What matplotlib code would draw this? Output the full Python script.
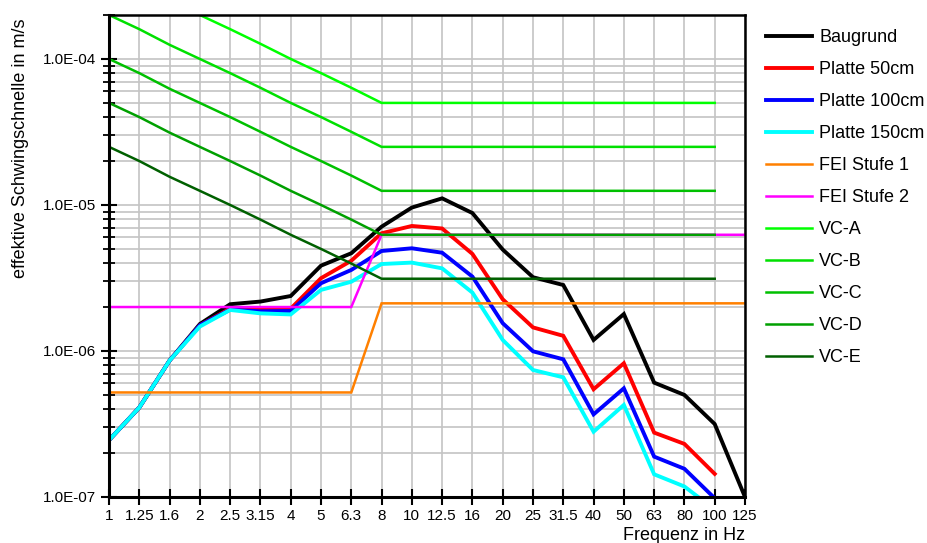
import numpy as np
import matplotlib
matplotlib.use("Agg")
import matplotlib.pyplot as plt
from matplotlib.ticker import LogLocator, FixedLocator, NullFormatter

plt.rcParams['font.family'] = ['Liberation Sans', 'DejaVu Sans']

freq_labels = ["1", "1.25", "1.6", "2", "2.5", "3.15", "4", "5", "6.3", "8", "10",
               "12.5", "16", "20", "25", "31.5", "40", "50", "63", "80", "100", "125"]

nan = np.nan
baugrund = [2.45e-7, 4.1e-7, 8.6e-7, 1.53e-6, 2.09e-6, 2.18e-6, 2.38e-6, 3.84e-6, 4.67e-6, 7.1e-6, 9.6e-6,
            1.11e-5, 8.8e-6, 4.95e-6, 3.2e-6, 2.83e-6, 1.19e-6, 1.79e-6, 6.07e-7, 5.0e-7, 3.16e-7, 1.0e-7]
platte50 = [2.45e-7, 4.1e-7, 8.6e-7, 1.5e-6, 1.95e-6, 1.95e-6, 1.95e-6, 3.15e-6, 4.15e-6, 6.4e-6, 7.18e-6,
            6.9e-6, 4.62e-6, 2.26e-6, 1.45e-6, 1.27e-6, 5.47e-7, 8.24e-7, 2.76e-7, 2.31e-7, 1.44e-7, nan]
platte100 = [2.45e-7, 4.1e-7, 8.6e-7, 1.5e-6, 1.92e-6, 1.87e-6, 1.88e-6, 2.91e-6, 3.59e-6, 4.84e-6, 5.05e-6,
             4.71e-6, 3.23e-6, 1.55e-6, 9.95e-7, 8.77e-7, 3.68e-7, 5.55e-7, 1.89e-7, 1.56e-7, 9.8e-8, nan]
platte150 = [2.45e-7, 4.1e-7, 8.6e-7, 1.47e-6, 1.91e-6, 1.81e-6, 1.78e-6, 2.62e-6, 2.98e-6, 3.94e-6, 4.03e-6,
             3.68e-6, 2.51e-6, 1.19e-6, 7.41e-7, 6.6e-7, 2.8e-7, 4.27e-7, 1.43e-7, 1.18e-7, 8.2e-8, nan]
fei1 = [5.2e-7] * 9 + [2.12e-6] * 13
fei2 = [2.0e-6] * 9 + [6.25e-6] * 13
vc_a = [4.0e-4, 3.2e-4, 2.5e-4, 2.0e-4, 1.6e-4, 1.27e-4, 1.0e-4, 8.0e-5, 6.35e-5] + [5.0e-5] * 12 + [nan]
vc_b = [2.0e-4, 1.6e-4, 1.25e-4, 1.0e-4, 8.0e-5, 6.35e-5, 5.0e-5, 4.0e-5, 3.17e-5] + [2.5e-5] * 12 + [nan]
vc_c = [1.0e-4, 8.0e-5, 6.25e-5, 5.0e-5, 4.0e-5, 3.17e-5, 2.5e-5, 2.0e-5, 1.59e-5] + [1.25e-5] * 12 + [nan]
vc_d = [5.0e-5, 4.0e-5, 3.13e-5, 2.5e-5, 2.0e-5, 1.59e-5, 1.25e-5, 1.0e-5, 7.94e-6] + [6.25e-6] * 12 + [nan]
vc_e = [2.5e-5, 2.0e-5, 1.56e-5, 1.25e-5, 1.0e-5, 7.94e-6, 6.25e-6, 5.0e-6, 3.97e-6] + [3.125e-6] * 12 + [nan]

x = np.arange(len(freq_labels))

fig = plt.figure(figsize=(9.28, 5.43), dpi=100)
ax = fig.add_axes([109/928, 1 - 497/543, (745 - 109)/928, (497 - 15)/543])

series = [
    (baugrund, "Baugrund", "#000000", 2.8),
    (platte50, "Platte 50cm", "#ff0000", 2.8),
    (platte100, "Platte 100cm", "#0000ff", 2.8),
    (platte150, "Platte 150cm", "#00ffff", 2.8),
    (fei1, "FEI Stufe 1", "#ff8000", 1.8),
    (fei2, "FEI Stufe 2", "#ff00ff", 1.8),
    (vc_a, "VC-A", "#00ff00", 1.8),
    (vc_b, "VC-B", "#00e000", 1.8),
    (vc_c, "VC-C", "#00c000", 1.8),
    (vc_d, "VC-D", "#00a000", 1.8),
    (vc_e, "VC-E", "#006000", 1.8),
]
for vals, lab, col, lw in series:
    ax.plot(x, vals, color=col, lw=lw, label=lab, solid_joinstyle='miter', clip_on=True)

ax.set_yscale('log')
ax.set_xlim(0, 21)
ax.set_ylim(1e-7, 2e-4)

ax.set_xticks(x)
ax.set_xticklabels(freq_labels, fontsize=11)
ax.yaxis.set_major_locator(FixedLocator([1e-7, 1e-6, 1e-5, 1e-4]))
ax.set_yticklabels(["1.0E-07", "1.0E-06", "1.0E-05", "1.0E-04"], fontsize=11)
ax.yaxis.set_minor_locator(LogLocator(base=10, subs=np.arange(2, 10), numticks=20))
ax.yaxis.set_minor_formatter(NullFormatter())

ax.tick_params(axis='both', which='major', direction='inout', length=12, width=1.5, color='black', pad=3)
ax.tick_params(axis='y', which='minor', direction='inout', length=8, width=1.3, color='black')

ax.grid(True, which='major', axis='x', color='#c4c4c4', lw=1.2)
ax.grid(True, which='both', axis='y', color='#c4c4c4', lw=1.2)
ax.set_axisbelow(True)

for side in ['left', 'bottom']:
    ax.spines[side].set_linewidth(2.2)
for side in ['top', 'right']:
    ax.spines[side].set_linewidth(1.8)

fig.text(745/928, 1 - 535/543, "Frequenz in Hz", ha='right', va='center', fontsize=13)
fig.text(21/928, 1 - 19/543, "effektive Schwingschnelle in m/s", rotation=90,
         ha='center', va='top', fontsize=13)

leg = fig.legend(loc='upper left', bbox_to_anchor=(766/928, 1 - 29/543), frameon=False,
                 fontsize=13, handlelength=2.55, handletextpad=0.4, labelspacing=0.83,
                 borderpad=0, borderaxespad=0)

fig.savefig("out.png", dpi=100)
